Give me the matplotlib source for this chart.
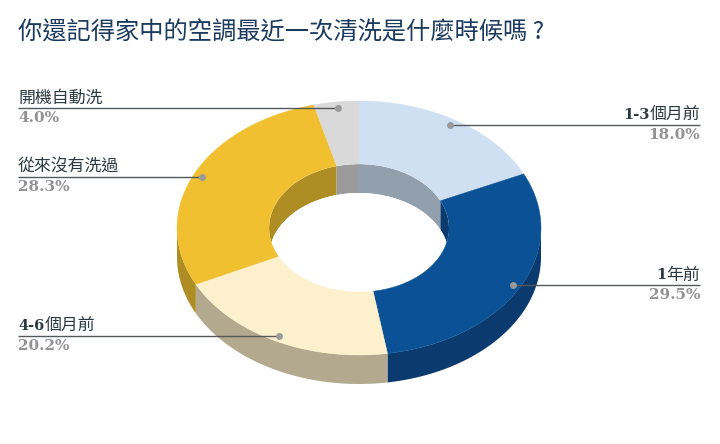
import numpy as np
import matplotlib
matplotlib.use("Agg")
import matplotlib.pyplot as plt
from matplotlib.patches import Ellipse, Polygon

# Chart data (clockwise from 12 o'clock)
labels = ["1-3個月前", "1年前", "4-6個月前", "從來沒有洗過", "開機自動洗"]
values = [18.0, 29.5, 20.2, 28.3, 4.0]
title = "你還記得家中的空調最近一次清洗是什麼時候嗎 ?"

# Colours of top surface and side walls
top_colors = ["#CFE0F3", "#0A5295", "#FDF0CC", "#F0C030", "#D9D9D9"]
wall_colors = ["#929FAD", "#0A3A6E", "#B3A98E", "#AE8D25", "#9B9B9B"]

# Donut geometry in pixels
cx, cy = 359, 228
rx_out, ry_out = 182, 127
rx_in, ry_in = 90, 64
depth = 29

# Label layout: line y, dot x, side
label_layout = [
    (125, 450, "right"),
    (285, 513, "right"),
    (336, 279, "left"),
    (177, 202, "left"),
    (108, 338, "left"),
]
left_x, right_x = 18, 700

CJK = "Noto Sans CJK TC"
NUM = "DejaVu Serif"


def arc(rx, ry, t0, t1, dy=0):
    t = np.radians(np.linspace(t0, t1, 120))
    return np.column_stack([cx + rx * np.sin(t), cy - ry * np.cos(t) + dy])


def draw_label(ax, fig, text, y, side):
    # digits in bold serif, chinese part in CJK font
    n = 0
    while n < len(text) and ord(text[n]) < 128:
        n += 1
    head, tail = text[:n], text[n:]
    renderer = fig.canvas.get_renderer()
    if side == "left":
        x = left_x
        if head:
            h = ax.text(x, y - 3, head, fontsize=10.5, family=NUM, weight="bold",
                        color="#2B3A42", ha="left", va="bottom")
            x += h.get_window_extent(renderer).width
        ax.text(x, y - 1, tail, fontsize=12.2, family=CJK, color="#2B3A42",
                ha="left", va="bottom")
    else:
        t = ax.text(right_x, y - 1, tail, fontsize=12.2, family=CJK, color="#2B3A42",
                    ha="right", va="bottom")
        if head:
            x = right_x - t.get_window_extent(renderer).width
            ax.text(x, y - 3, head, fontsize=10.5, family=NUM, weight="bold",
                    color="#2B3A42", ha="right", va="bottom")


fig = plt.figure(figsize=(7.2, 4.44), dpi=100)
ax = fig.add_axes([0, 0, 1, 1])
ax.set_xlim(0, 720)
ax.set_ylim(444, 0)
ax.axis("off")

edges = np.concatenate([[0], np.cumsum(values)]) / np.sum(values) * 360

# outer wall, only the front half is visible
for i in range(len(values)):
    t0, t1 = max(edges[i], 90), min(edges[i + 1], 270)
    if t1 > t0:
        upper = arc(rx_out, ry_out, t0, t1)
        lower = arc(rx_out, ry_out, t1, t0, depth)
        ax.add_patch(Polygon(np.vstack([upper, lower]), fc=wall_colors[i], ec="none", zorder=1))

# inner wall seen through the hole, back half only
hole = Ellipse((cx, cy), 2 * rx_in, 2 * ry_in, transform=ax.transData, fc="none", ec="none")
ax.add_patch(hole)
for i in range(len(values)):
    for a, b in [(edges[i], min(edges[i + 1], 90)), (max(edges[i], 270), edges[i + 1])]:
        if b > a:
            upper = arc(rx_in, ry_in, a, b)
            lower = arc(rx_in, ry_in, b, a, depth)
            p = Polygon(np.vstack([upper, lower]), fc=wall_colors[i], ec="none", zorder=2)
            ax.add_patch(p)
            p.set_clip_path(hole)

through = Ellipse((cx, cy + depth), 2 * rx_in, 2 * ry_in, fc="white", ec="none", zorder=3)
ax.add_patch(through)
through.set_clip_path(hole)

# top surface
for i in range(len(values)):
    outer = arc(rx_out, ry_out, edges[i], edges[i + 1])
    inner = arc(rx_in, ry_in, edges[i + 1], edges[i])
    ax.add_patch(Polygon(np.vstack([outer, inner]), fc=top_colors[i], ec=top_colors[i],
                         lw=0.3, zorder=4))

# leader lines and labels
for i, (y, dot_x, side) in enumerate(label_layout):
    end_x = left_x if side == "left" else right_x
    ax.plot([end_x, dot_x], [y, y], color="#55595C", lw=1.0, zorder=5, solid_capstyle="butt")
    ax.plot([dot_x], [y], "o", color="#9A9A9A", ms=5, mec="none", zorder=6)
    draw_label(ax, fig, labels[i], y, side)
    ax.text(end_x, y + 3, f"{values[i]:.1f}%", fontsize=11, family=NUM, weight="bold",
            color="#929292", ha=side, va="top")

ax.text(18, 32, title, fontsize=17.5, family=[CJK, "DejaVu Sans"], color="#1B3A5F",
        ha="left", va="center")

fig.savefig("out.png", dpi=100, facecolor="white")
